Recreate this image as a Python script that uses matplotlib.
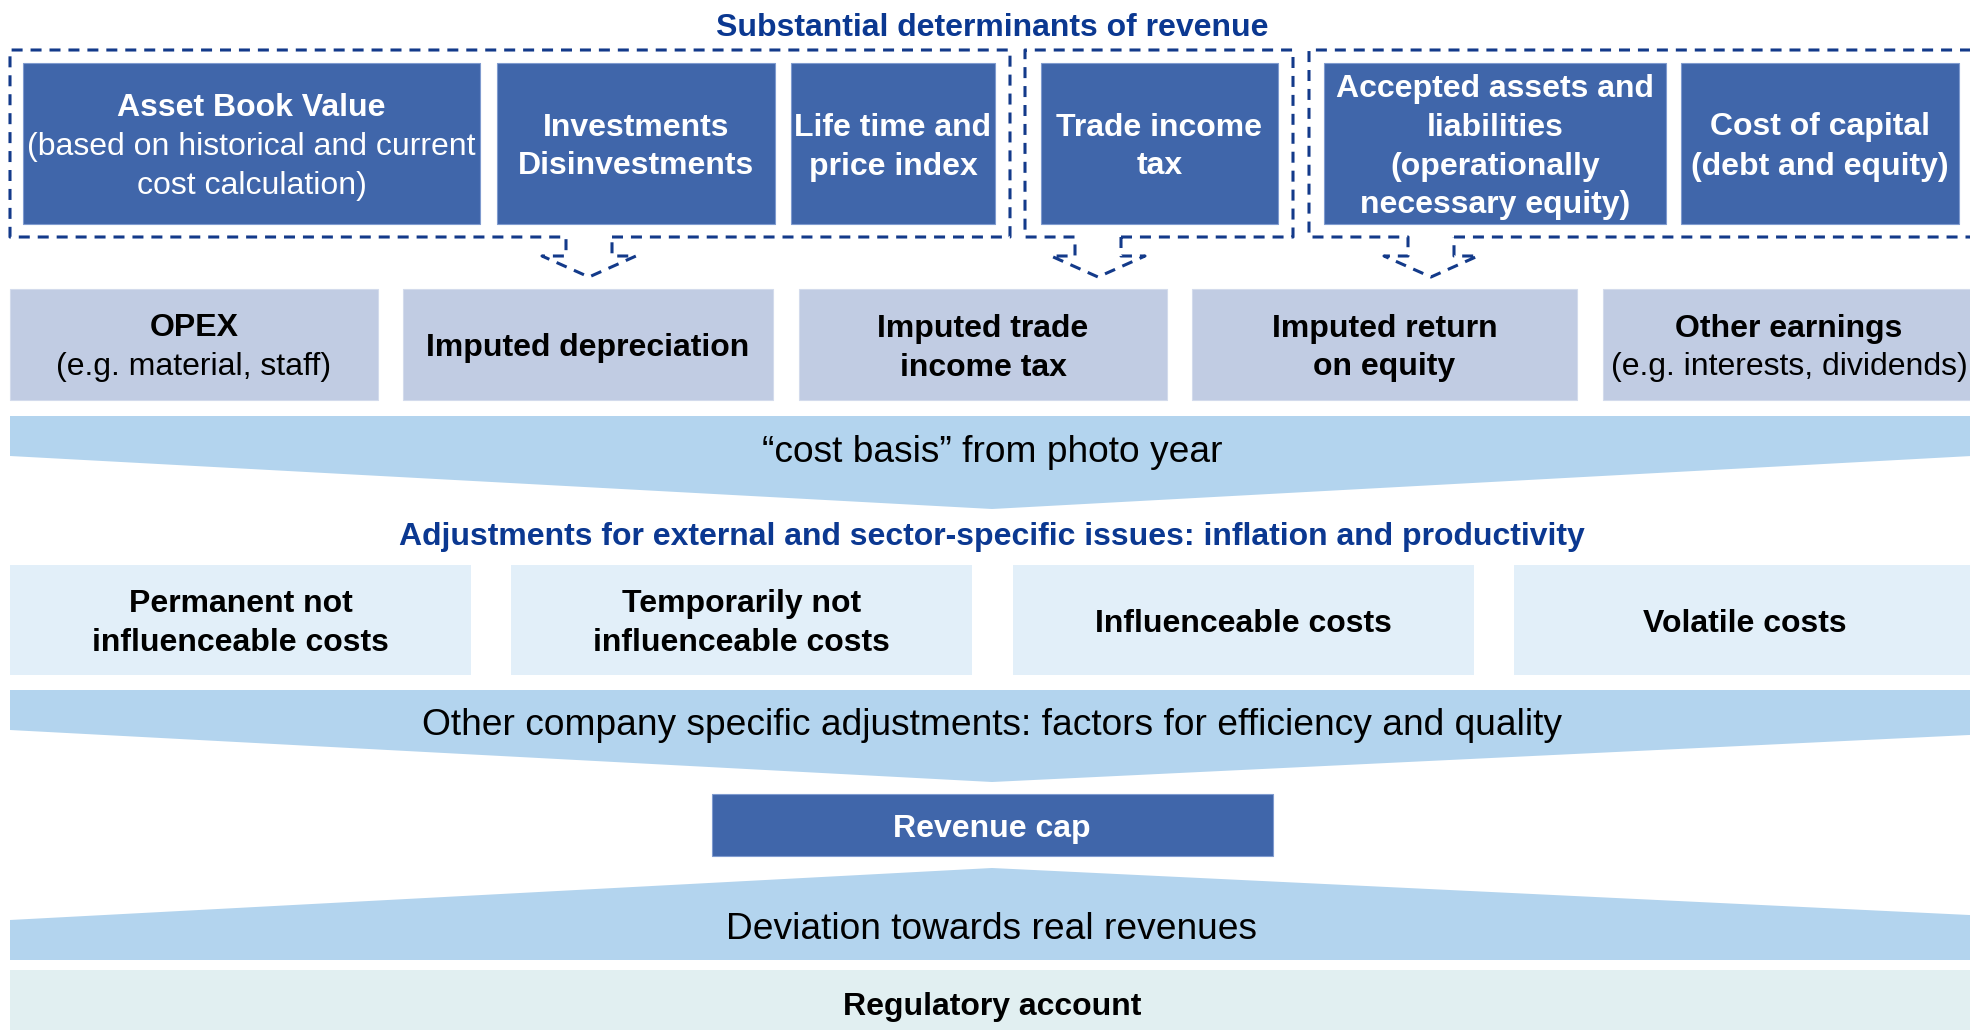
import matplotlib
matplotlib.use("Agg")
import matplotlib.pyplot as plt
from matplotlib.patches import Rectangle, Polygon

plt.rcParams['font.family'] = ['Liberation Sans', 'DejaVu Sans']

# ---- texts of the diagram ----
title_top = "Substantial determinants of revenue"
top_labels = [["Asset Book Value", "(based on historical and current", "cost calculation)"],
              ["Investments", "Disinvestments"],
              ["Life time and", "price index"],
              ["Trade income", "tax"],
              ["Accepted assets and", "liabilities", "(operationally", "necessary equity)"],
              ["Cost of capital", "(debt and equity)"]]
top_bold = [1, 2, 2, 2, 4, 2]   # number of bold lines from the top

cost_labels = [["OPEX", "(e.g. material, staff)"],
               ["Imputed depreciation"],
               ["Imputed trade", "income tax"],
               ["Imputed return", "on equity"],
               ["Other earnings", "(e.g. interests, dividends)"]]
cost_bold = [1, 1, 2, 2, 1]

chevron1_text = "\u201ccost basis\u201d from photo year"
title_mid = "Adjustments for external and sector-specific issues: inflation and productivity"
adj_labels = [["Permanent not", "influenceable costs"],
              ["Temporarily not", "influenceable costs"],
              ["Influenceable costs"],
              ["Volatile costs"]]
chevron2_text = "Other company specific adjustments: factors for efficiency and quality"
cap_text = "Revenue cap"
deviation_text = "Deviation towards real revenues"
account_text = "Regulatory account"

# ---- layout (pixel coordinates, y downwards) ----
W, H = 1970, 1030
top_x = [(23, 480), (497, 775), (791, 995), (1041, 1278), (1324, 1666), (1681, 1959)]
top_y = (63, 224)
groups = [(10, 1010, 566, 612), (1025, 1293, 1075, 1121), (1309, 1995, 1408, 1454)]
grp_top, grp_bot, wing_y, tip_y = 50, 237, 256, 277
cost_x = [(10, 378), (403, 773), (799, 1167), (1192, 1577), (1603, 1975)]
cost_y = (289, 400)
adj_x = [(10, 471), (511, 972), (1013, 1474), (1514, 1975)]
adj_y = (565, 675)
cx = 992

dark = '#4066AA'
grey = '#C1CCE3'
chev = '#B3D4EE'
light = '#E2EFF9'
acct = '#E1EFF1'
navy = '#0B3891'
dash_col = '#133A8A'

FS = 23
LS = 39

fig = plt.figure(figsize=(19.7, 10.3), dpi=100)
ax = fig.add_axes([0, 0, 1, 1])
ax.set_xlim(0, W)
ax.set_ylim(H, 0)
ax.axis('off')


def lines_text(x, yc, lines, nbold, color, size=FS):
    n = len(lines)
    for i, s in enumerate(lines):
        y = yc + (i - (n - 1) / 2) * LS + size * 0.5
        ax.text(x, y, s, ha='center', va='baseline', fontsize=size, color=color,
                fontweight='bold' if i < nbold else 'normal')


lines_text(cx, 24, [title_top], 1, navy)

# dark boxes
for (x0, x1), lab, nb in zip(top_x, top_labels, top_bold):
    ax.add_patch(Rectangle((x0, top_y[0]), x1 - x0, top_y[1] - top_y[0],
                           facecolor=dark, edgecolor='#7F9BCF', lw=0.8))
    lines_text((x0 + x1) / 2, sum(top_y) / 2, lab, nb, 'white')

# dashed group frames with the outgoing arrows
for x0, x1, sl, sr in groups:
    tip = (sl + sr) / 2
    px = [sr, x1, x1, x0, x0, sl, sl, sl - 24, tip, sr + 24, sr, sr]
    py = [grp_bot, grp_bot, grp_top, grp_top, grp_bot, grp_bot, wing_y, wing_y,
          tip_y, wing_y, wing_y, grp_bot]
    ax.plot(px, py, color=dash_col, lw=2.2, dashes=(3.6, 2.6),
            solid_capstyle='butt', dash_capstyle='butt')

# cost components
for (x0, x1), lab, nb in zip(cost_x, cost_labels, cost_bold):
    ax.add_patch(Rectangle((x0, cost_y[0]), x1 - x0, cost_y[1] - cost_y[0],
                           facecolor=grey, edgecolor='#D3DBEC', lw=0.8))
    lines_text((x0 + x1) / 2, sum(cost_y) / 2, lab, nb, 'black')

# chevron 1
ax.add_patch(Polygon([(10, 416), (1990, 416), (1990, 455), (cx, 509), (10, 456)],
                     closed=True, facecolor=chev, edgecolor='none'))
lines_text(cx, 449, [chevron1_text], 0, 'black', size=26.7)

lines_text(cx, 534, [title_mid], 1, navy)

for (x0, x1), lab in zip(adj_x, adj_labels):
    ax.add_patch(Rectangle((x0, adj_y[0]), x1 - x0, adj_y[1] - adj_y[0],
                           facecolor=light, edgecolor='none'))
    lines_text((x0 + x1) / 2, sum(adj_y) / 2, lab, len(lab), 'black')

# chevron 2
ax.add_patch(Polygon([(10, 690), (1990, 690), (1990, 734), (cx, 782), (10, 730)],
                     closed=True, facecolor=chev, edgecolor='none'))
lines_text(cx, 722, [chevron2_text], 0, 'black', size=26.7)

# revenue cap
ax.add_patch(Rectangle((712, 794), 1273 - 712, 856 - 794, facecolor=dark,
                       edgecolor='#7F9BCF', lw=0.8))
lines_text(cx, 825, [cap_text], 1, 'white')

# upward chevron
ax.add_patch(Polygon([(10, 960), (10, 920), (cx, 868), (1990, 916), (1990, 960)],
                     closed=True, facecolor=chev, edgecolor='none'))
lines_text(cx, 926, [deviation_text], 0, 'black', size=26.7)

# regulatory account
ax.add_patch(Rectangle((10, 970), 1990, 80, facecolor=acct, edgecolor='none'))
lines_text(cx, 1004, [account_text], 1, 'black')

fig.savefig('out.png', dpi=100)
